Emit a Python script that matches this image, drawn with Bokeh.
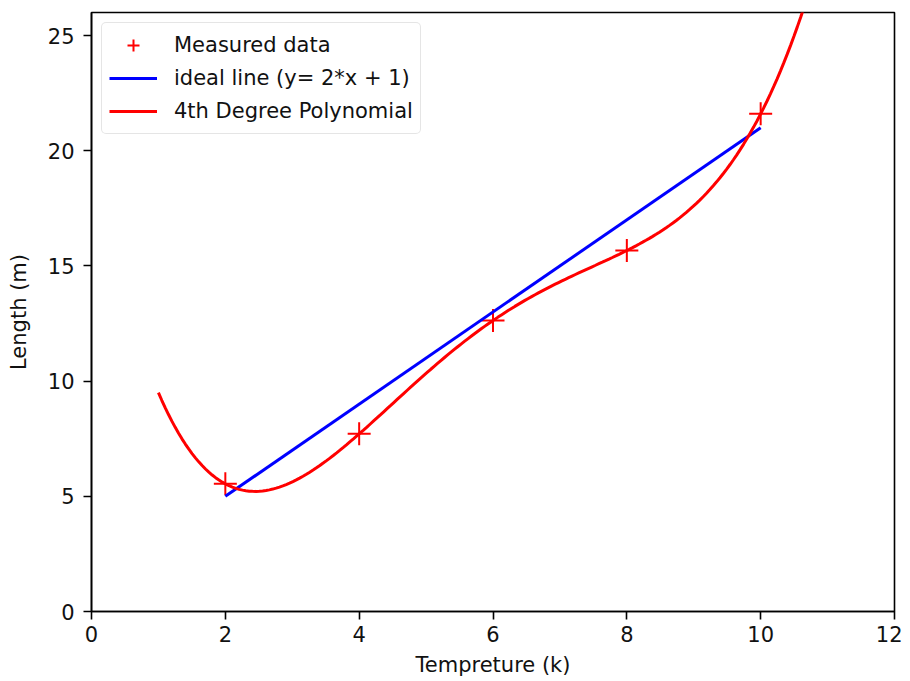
import numpy as np
from bokeh.plotting import figure
from bokeh.models import Range1d, FixedTicker, Legend, LegendItem
from bokeh.embed import file_html
from bokeh.resources import INLINE

# Data
temp = [2, 4, 6, 8, 10]
length = [5.54, 7.71, 12.63, 15.67, 21.6]
ideal_x = [2, 10]
ideal_y = [5, 21]
fit_x_start, fit_x_end = 1, 11
x_ticks = [0, 2, 4, 6, 8, 10, 12]
y_ticks = [0, 5, 10, 15, 20, 25]

# 4th degree polynomial fit of the measured data (as in the original chart)
coef = np.polyfit(temp, length, 4)
fit_x = np.linspace(fit_x_start, fit_x_end, 200)
fit_y = np.polyval(coef, fit_x)

FONT = "DejaVu Sans"
FS = "21px"
TXT = "#111111"

p = figure(width=902, height=681, output_backend="svg", toolbar_location=None,
           x_range=Range1d(0, 12), y_range=Range1d(0, 26),
           min_border_left=91, min_border_right=8, min_border_top=12, min_border_bottom=70)
p.grid.visible = False
p.outline_line_color = "black"
p.outline_line_width = 1.6

for ax in (p.xaxis[0], p.yaxis[0]):
    ax.axis_line_color = "black"
    ax.axis_line_width = 1.6
    ax.major_tick_line_color = "black"
    ax.major_tick_line_width = 1.6
    ax.major_tick_out = 8
    ax.major_tick_in = 0
    ax.minor_tick_line_color = None
    ax.major_label_text_font = FONT
    ax.major_label_text_font_size = FS
    ax.major_label_text_color = TXT
    ax.axis_label_text_font = FONT
    ax.axis_label_text_font_size = FS
    ax.axis_label_text_font_style = "normal"
    ax.axis_label_text_color = TXT

p.xaxis.ticker = FixedTicker(ticks=x_ticks)
p.yaxis.ticker = FixedTicker(ticks=y_ticks)
p.xaxis.axis_label = "Tempreture (k)"
p.yaxis.axis_label = "Length (m)"
p.xaxis.major_label_standoff = 6
p.yaxis.major_label_standoff = 9
p.xaxis.axis_label_standoff = 8
p.yaxis.axis_label_standoff = 14

r_meas = p.scatter(temp, length, marker="cross", size=23, line_color="#ff0000", line_width=2)
r_ideal = p.line(ideal_x, ideal_y, line_color="#0000ff", line_width=3)
r_fit = p.line(fit_x, fit_y, line_color="#ff0000", line_width=3)

legend = Legend(items=[
    LegendItem(label="Measured data", renderers=[r_meas]),
    LegendItem(label="ideal line (y= 2*x + 1)", renderers=[r_ideal]),
    LegendItem(label="4th Degree Polynomial", renderers=[r_fit]),
], location="top_left")
legend.label_text_font = FONT
legend.label_text_font_size = FS
legend.label_text_color = TXT
legend.glyph_width = 48
legend.glyph_height = 30
legend.label_height = 30
legend.spacing = 3
legend.label_standoff = 17
legend.padding = 7
legend.margin = 10
legend.border_line_color = "#cccccc"
legend.border_line_width = 1.5
legend.border_radius = 5
legend.background_fill_alpha = 0.8
p.add_layout(legend)

open("out.html", "w").write(file_html(p, INLINE))
